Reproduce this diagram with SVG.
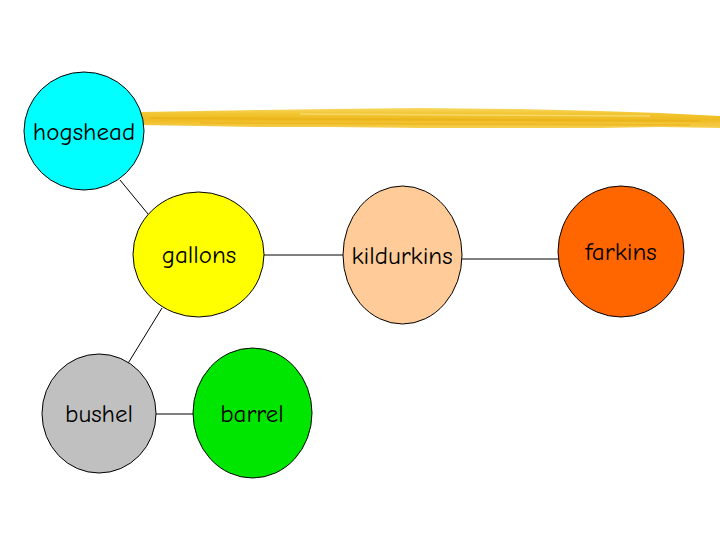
<svg xmlns="http://www.w3.org/2000/svg" width="720" height="540" viewBox="0 0 720 540">
<style>
.n{stroke:#000;stroke-width:1}
.t{font-family:"Comic Neue","DejaVu Sans","Liberation Sans",sans-serif;font-size:25px;fill:#000;text-anchor:middle}
.c{stroke:#000;stroke-width:1;fill:none}
</style>
<defs>
<linearGradient id="brush" x1="0" y1="0" x2="0" y2="1">
<stop offset="0" stop-color="#f8d860"/>
<stop offset="0.3" stop-color="#f2c530"/>
<stop offset="0.6" stop-color="#efbb22"/>
<stop offset="1" stop-color="#f6cf50"/>
</linearGradient>
</defs>
<rect width="720" height="540" fill="#fff"/>
<g id="brushstroke">
<path d="M138,112 L200,111 L260,110 L330,109 L420,108 L520,109 L600,111 L660,113 L720,116 L720,128 L660,127 L600,128 L520,128 L420,128 L330,127 L260,127 L200,126 L138,125 Z" fill="url(#brush)"/>
<path d="M150,118 L700,121" stroke="#e8b018" stroke-width="2" opacity="0.6"/>
<path d="M300,114 L650,116" stroke="#fae080" stroke-width="1.5" opacity="0.7"/>
<path d="M200,123 L690,125" stroke="#e9ad10" stroke-width="1.5" opacity="0.5"/>
</g>
<g id="connectors">
<line class="c" x1="120" y1="180" x2="148" y2="214"/>
<line class="c" x1="162" y1="308" x2="127" y2="365"/>
<line class="c" x1="264" y1="255" x2="343" y2="255"/>
<line class="c" x1="462" y1="259" x2="558" y2="259"/>
<line class="c" x1="156" y1="414" x2="193" y2="414"/>
</g>
<g id="hogshead">
<ellipse class="n" cx="84" cy="131" rx="60" ry="59" fill="#00ffff"/>
<text class="t" x="84" y="140">hogshead</text>
</g>
<g id="gallons">
<ellipse class="n" cx="198.5" cy="254.5" rx="65.5" ry="62.5" fill="#ffff00"/>
<text class="t" x="199" y="263">gallons</text>
</g>
<g id="kildurkins">
<ellipse class="n" cx="402.5" cy="255" rx="59.5" ry="69" fill="#ffcc99"/>
<text class="t" x="402" y="264">kildurkins</text>
</g>
<g id="farkins">
<ellipse class="n" cx="621" cy="251.5" rx="63" ry="65.5" fill="#ff6600"/>
<text class="t" x="621" y="260">farkins</text>
</g>
<g id="bushel">
<ellipse class="n" cx="99" cy="413.5" rx="57" ry="59.5" fill="#c0c0c0"/>
<text class="t" x="99" y="422">bushel</text>
</g>
<g id="barrel">
<ellipse class="n" cx="252.5" cy="413" rx="59.5" ry="65" fill="#00e600"/>
<text class="t" x="252" y="422">barrel</text>
</g>
</svg>
